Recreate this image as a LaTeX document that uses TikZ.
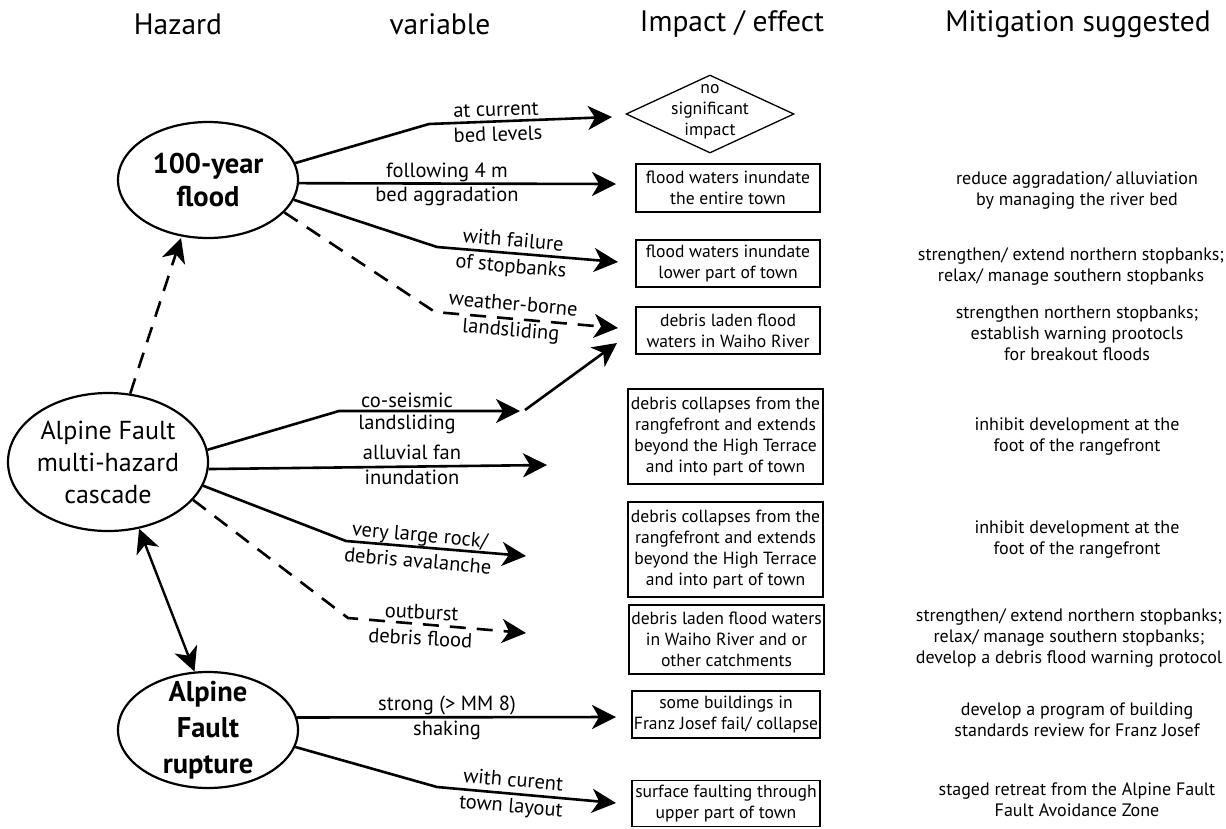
\documentclass[tikz,border=0pt]{standalone}
\usepackage{fontspec}
\setmainfont{PT Sans}
\usetikzlibrary{arrows.meta,shapes.geometric}
\begin{document}
\begin{tikzpicture}[x=1pt,y=-1pt,
  hz/.style={ellipse,draw,line width=2.2pt,inner sep=0pt},
  hzt/.style={align=center,inner sep=0pt},
  imp/.style={draw,line width=1.8pt,align=center,inner sep=0pt,font=\fontsize{17.6}{21}\selectfont},
  mit/.style={align=center,inner sep=0pt,font=\fontsize{18}{21}\selectfont},
  lab/.style={align=center,inner sep=0pt,font=\fontsize{20.5}{24}\selectfont},
  lab2/.style={align=center,inner sep=0pt,font=\fontsize{20.5}{26}\selectfont},
  hdr/.style={inner sep=0pt,font=\fontsize{29.5}{34}\selectfont},
  arr/.style={line width=2.6pt,-{Stealth[length=24pt,width=24pt,inset=7pt]}},
  dsh/.style={arr,dash pattern=on 16pt off 11pt},
]
\useasboundingbox (0,0) rectangle (1226,828);

% headers
\node[hdr] (h1) at (178,24) {Hazard};
\node[hdr] (h2) at (440,24) {variable};
\node[hdr] (h3) at (732,24) {Impact / effect};
\node[hdr] (h4) at (1078,24) {Mitigation suggested};

% hazard ellipses
\node[hz,minimum width=180,minimum height=116] (flood) at (208,180) {};
\node[hzt,font=\bfseries\fontsize{28.5}{33}\selectfont] (floodT) at (flood) {100-year\\flood};
\node[hz,minimum width=200,minimum height=138] (casc) at (108,462) {};
\node[hzt,font=\fontsize{26}{32}\selectfont] (cascT) at (casc) {Alpine Fault\\multi-hazard\\cascade};
\node[hz,minimum width=180,minimum height=116] (rupt) at (208,730) {};
\node[hzt,font=\bfseries\fontsize{28.5}{36}\selectfont] (ruptT) at (rupt) {Alpine\\Fault\\rupture};

% impact column
\node[diamond,draw,line width=1.3pt,minimum width=168,minimum height=78,inner sep=0pt] (d0) at (710,114) {};
\node[hzt,font=\fontsize{17.6}{21}\selectfont] (d0T) at (710,112) {no\\significant\\impact};
\node[imp,minimum width=184,minimum height=48] (b1) at (728,188) {flood waters inundate\\the entire town};
\node[imp,minimum width=184,minimum height=47] (b2) at (728,263.5) {flood waters inundate\\lower part of town};
\node[imp,minimum width=184,minimum height=47] (b3) at (728,330.5) {debris laden flood\\waters in Waiho River};
\node[imp,minimum width=195,minimum height=95] (b4) at (725.5,436.5) {debris collapses from the\\rangfefront and extends\\beyond the High Terrace\\and into part of town};
\node[imp,minimum width=195,minimum height=95] (b5) at (725.5,549.5) {debris collapses from the\\rangfefront and extends\\beyond the High Terrace\\and into part of town};
\node[imp,minimum width=195,minimum height=69] (b6) at (726.5,639.5) {debris laden flood waters\\in Waiho River and or\\other catchments};
\node[imp,minimum width=188,minimum height=47] (b7) at (726,714.5) {some buildings in\\Franz Josef fail/ collapse};
\node[imp,minimum width=188,minimum height=46] (b8) at (726,803.5) {surface faulting through\\upper part of town};

% mitigation column
\node[mit] (m1) at (1077,190) {reduce aggradation/ alluviation\\by managing the river bed};
\node[mit] (m2) at (1071,266) {strengthen/ extend northern stopbanks;\\relax/ manage southern stopbanks};
\node[mit] (m3) at (1077,333) {strengthen northern stopbanks;\\establish warning prootocls\\for breakout floods};
\node[mit] (m4) at (1077,437) {inhibit development at the\\foot of the rangefront};
\node[mit] (m5) at (1077,540) {inhibit development at the\\foot of the rangefront};
\node[mit] (m6) at (1069,638) {strengthen/ extend northern stopbanks;\\relax/ manage southern stopbanks;\\develop a debris flood warning protocol};
\node[mit] (m7) at (1077,720) {develop a program of building\\standards review for Franz Josef};
\node[mit] (m8) at (1077,800) {staged retreat from the Alpine Fault\\Fault Avoidance Zone};

% edge labels
\node[lab,rotate=2] (l1a) at (496,110) {at current};
\node[lab,rotate=2] (l1b) at (498,134) {bed levels};
\node[lab] (l2a) at (447,172) {following 4 m};
\node[lab] (l2b) at (447,196) {bed aggradation};
\node[lab2,rotate=-5] (l3) at (512,254.5) {with failure\\of stopbanks};
\node[lab2,rotate=-5] (l4) at (512,318.5) {weather-borne\\landsliding};
\node[lab] (l6a) at (407,400) {co-seismic};
\node[lab] (l6b) at (407,424) {landsliding};
\node[lab] (l7a) at (412,452) {alluvial fan};
\node[lab] (l7b) at (412,477) {inundation};
\node[lab2,rotate=-5] (l8) at (419,547.5) {very large rock/\\debris avalanche};
\node[lab2,rotate=-3] (l9) at (421,625) {outburst\\debris flood};
\node[lab] (l11a) at (447,705) {strong (> MM 8)};
\node[lab] (l11b) at (447,730) {shaking};
\node[lab2,rotate=-5] (l12) at (512,794.5) {with curent\\town layout};

% bends and arrow ends
\coordinate (c1) at (429,124);  \coordinate (t1) at (612,117);
\coordinate (t2) at (616,184);
\coordinate (c3) at (437,247);  \coordinate (t3) at (618,262);
\coordinate (c4) at (435,312);  \coordinate (t4) at (618,328);
\coordinate (t5) at (181,238);
\coordinate (c6) at (339,411);  \coordinate (t6) at (520,411);
\coordinate (s6) at (525,410);  \coordinate (t6b) at (617,343);
\coordinate (t7) at (547,465);
\coordinate (c8) at (346,541);  \coordinate (t8) at (526,556);
\coordinate (c9) at (348,618);  \coordinate (t9) at (526,633);
\coordinate (t11) at (616,717);
\coordinate (c12) at (437,787); \coordinate (t12) at (616,803);

% connectors
\draw[arr] (flood.11) -- (c1) -- (t1);
\draw[arr] (flood.-2.5) -- (t2);
\draw[arr] (flood.-13) -- (c3) -- (t3);
\draw[dsh] (flood.-23) -- (c4) -- (t4);
\draw[dsh] (casc.72) -- (t5);
\draw[arr] (casc.7.5) -- (c6) -- (t6);
\draw[arr] (s6) -- (t6b);
\draw[arr] (casc.-4.5) -- (t7);
\draw[arr] (casc.-14) -- (c8) -- (t8);
\draw[dsh] (casc.-24) -- (c9) -- (t9);
\draw[line width=2.4pt,{Stealth[length=24pt,width=24pt,inset=7pt]}-{Stealth[length=24pt,width=24pt,inset=7pt]}] (casc.295) -- (rupt.103);
\draw[arr] (rupt.8) -- (t11);
\draw[arr] (rupt.-11.5) -- (c12) -- (t12);
\end{tikzpicture}
\end{document}
